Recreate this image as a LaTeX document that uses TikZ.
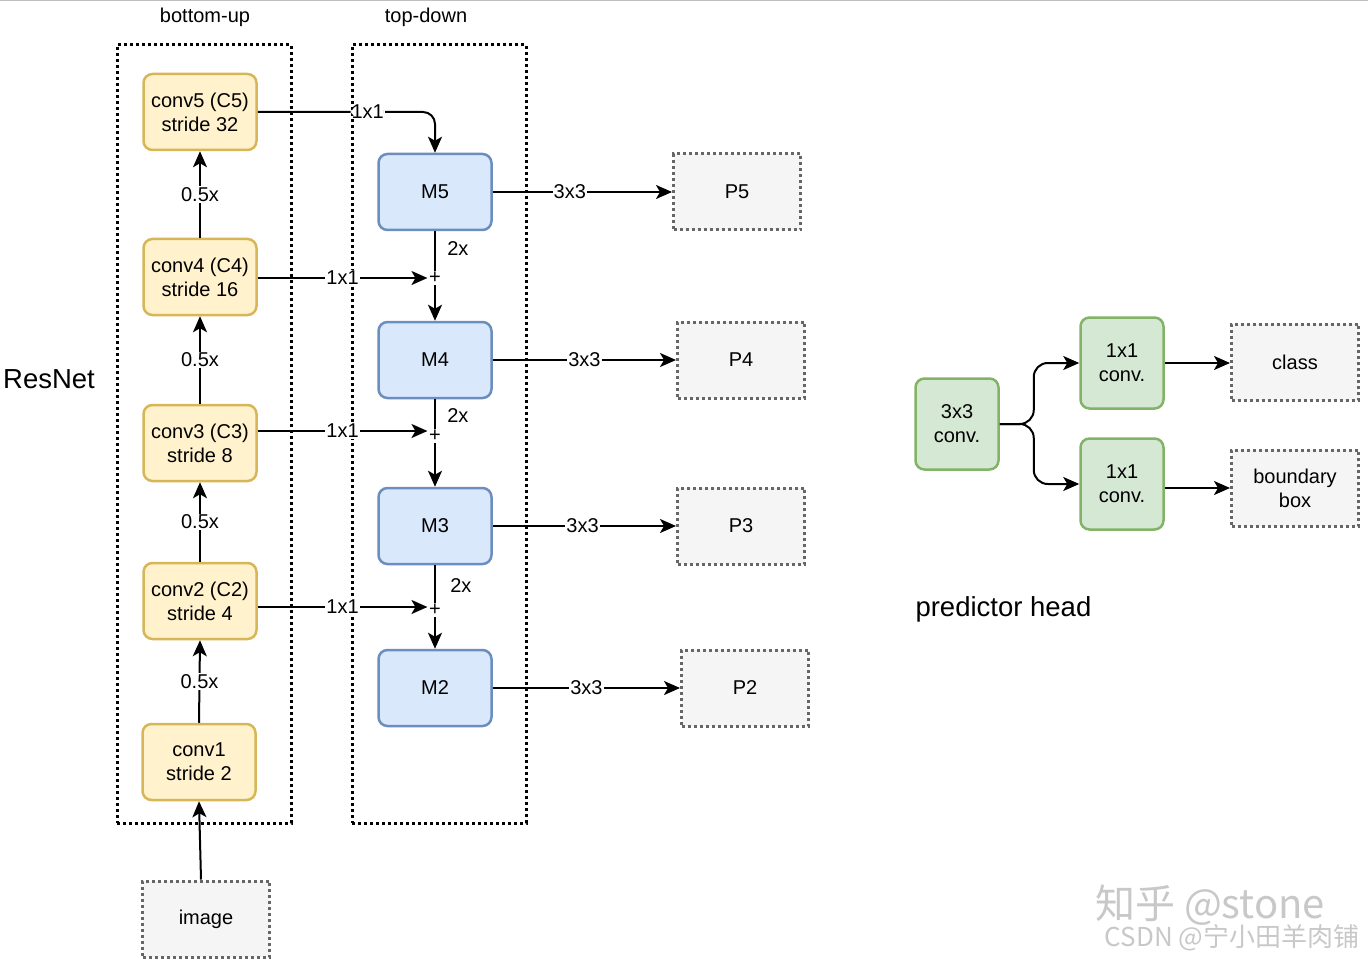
\documentclass[tikz,border=0pt]{standalone}
\usepackage{fontspec}
\setmainfont{Liberation Sans}
\newfontfamily\cjkwm{Noto Sans CJK SC}
\usetikzlibrary{arrows.meta}
\definecolor{yfill}{HTML}{FFF2CC}
\definecolor{ybord}{HTML}{D6B656}
\definecolor{bfill}{HTML}{DAE8FC}
\definecolor{bbord}{HTML}{6C8EBF}
\definecolor{gfill}{HTML}{D5E8D4}
\definecolor{gbord}{HTML}{82B366}
\definecolor{pfill}{HTML}{F5F5F5}
\definecolor{pbord}{HTML}{666666}
\definecolor{wmgray}{HTML}{C8C8C8}
\newcommand\fsmain{\fontsize{20}{24}\selectfont}
\newcommand\fsbig{\fontsize{27.5}{30}\selectfont}
\tikzset{
  every node/.style={font=\fsmain},
  ybox/.style={draw=ybord, fill=yfill, line width=2.5pt, rounded corners=9pt, minimum width=113pt, minimum height=76pt, align=center, inner sep=0pt},
  bbox/.style={draw=bbord, fill=bfill, line width=2.5pt, rounded corners=9pt, minimum width=113pt, minimum height=76pt, align=center, inner sep=0pt},
  gbox/.style={draw=gbord, fill=gfill, line width=2.5pt, rounded corners=9pt, minimum width=83pt, minimum height=91pt, align=center, inner sep=0pt},
  pbox/.style={draw=pbord, fill=pfill, line width=3pt, dash pattern=on 3pt off 3pt, minimum width=127pt, minimum height=76pt, align=center, inner sep=0pt},
  container/.style={draw=black, line width=3pt, dash pattern=on 3pt off 3pt, inner sep=0pt},
  conn/.style={draw=black, line width=2pt},
  arr/.style={conn, -{Stealth[length=16pt, width=14pt, inset=4pt]}},
  lbl/.style={fill=white, inner sep=1pt},
  plusn/.style={font=\fontsize{20}{20}\selectfont, inner sep=1.5pt},
}
\begin{document}
\begin{tikzpicture}[x=1pt, y=-1pt]
\useasboundingbox (0,0) rectangle (1368,960);
\draw[black!25, line width=2pt] (0,0.5) -- (1368,0.5);

% containers and titles
\node[container, minimum width=174pt, minimum height=778pt] (bu) at (204,434) {};
\node[container, minimum width=174pt, minimum height=778pt] (td) at (439,434) {};
\node (tbu) at (205,17) {bottom-up};
\node (ttd) at (426,17) {top-down};
\node[font=\fsbig] (resnet) at (49,379) {ResNet};

% bottom-up
\node[ybox] (c5) at (200,112) {conv5 (C5)\\stride 32};
\node[ybox] (c4) at (200,277) {conv4 (C4)\\stride 16};
\node[ybox] (c3) at (200,443) {conv3 (C3)\\stride 8};
\node[ybox] (c2) at (200,601) {conv2 (C2)\\stride 4};
\node[ybox] (c1) at (199,762) {conv1\\stride 2};
\node[pbox] (img) at (206,919) {image};

\draw[arr] (c1.north) -- node[lbl] {0.5x} (c2.south);
\draw[arr] (c2.north) -- node[lbl] {0.5x} (c3.south);
\draw[arr] (c3.north) -- node[lbl] {0.5x} (c4.south);
\draw[arr] (c4.north) -- node[lbl] {0.5x} (c5.south);
\draw[arr] ([xshift=-5pt]img.north) -- (c1.south);

% top-down
\node[bbox] (m5) at (435,192) {M5};
\node[bbox] (m4) at (435,360) {M4};
\node[bbox] (m3) at (435,526) {M3};
\node[bbox] (m2) at (435,688) {M2};

\node[plusn] (s4) at (435,278) {+};
\node[plusn] (s3) at (435,436) {+};
\node[plusn] (s2) at (435,610) {+};

\draw[arr, rounded corners=12pt] (c5.east) -- node[lbl, pos=0.62] {1x1} (c5.east -| m5.north) -- (m5.north);
\draw[arr] (c4.east |- s4.west) -- node[lbl] {1x1} (s4.west);
\draw[arr] ([yshift=5pt]c3.east |- s3.west) -- node[lbl] {1x1} ([yshift=5pt]s3.west);
\draw[arr] ([yshift=3pt]c2.east |- s2.west) -- node[lbl] {1x1} ([yshift=3pt]s2.west);

\draw[conn] (m5.south) -- node[right=8pt, pos=0.45] {2x} (s4.north);
\draw[arr] (s4.south) -- (m4.north);
\draw[conn] (m4.south) -- node[right=8pt, pos=0.55] {2x} (s3.north);
\draw[arr] (s3.south) -- (m3.north);
\draw[conn] (m3.south) -- node[right=11pt, pos=0.55] {2x} (s2.north);
\draw[arr] (s2.south) -- (m2.north);

% outputs
\node[pbox] (p5) at (737,192) {P5};
\node[pbox] (p4) at (741,360) {P4};
\node[pbox] (p3) at (741,526) {P3};
\node[pbox] (p2) at (745,688) {P2};

\draw[arr] (m5.east) -- node[lbl, pos=0.43] {3x3} (p5.west);
\draw[arr] (m4.east) -- node[lbl, pos=0.5] {3x3} (p4.west);
\draw[arr] (m3.east) -- node[lbl, pos=0.49] {3x3} (p3.west);
\draw[arr] (m2.east) -- node[lbl, pos=0.5] {3x3} (p2.west);

% predictor head
\node[gbox] (h3) at (957,424) {3x3\\conv.};
\node[gbox] (h1a) at (1122,363) {1x1\\conv.};
\node[gbox] (h1b) at (1122,484) {1x1\\conv.};
\node[pbox] (cls) at (1295,362) {class};
\node[pbox] (bb) at (1295,488) {boundary\\box};

\draw[arr, rounded corners=14pt] (h3.east) -- ([xshift=34pt]h3.east) |- (h1a.west);
\draw[arr, rounded corners=14pt] (h3.east) -- ([xshift=34pt]h3.east) |- (h1b.west);
\draw[arr] (h1a.east) -- (h1a.east -| cls.west);
\draw[arr] (h1b.east |- bb.west) -- (bb.west);

\node[font=\fsbig, anchor=west] (ph) at (912,609) {predictor head};

% watermark
\node[text=wmgray, font={\cjkwm\fontsize{40}{40}\selectfont}] (wm1) at (1210,905) {知乎 @stone};
\node[text=wmgray, font={\cjkwm\fontsize{26}{26}\selectfont}] (wm2) at (1232,938) {CSDN @宁小田羊肉铺};
\end{tikzpicture}
\end{document}
